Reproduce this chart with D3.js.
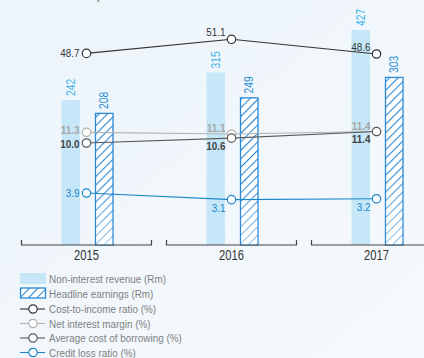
<!DOCTYPE html>
<html>
<head>
<meta charset="utf-8">
<script src="https://cdn.jsdelivr.net/npm/d3@7"></script>
<style>
  body { margin: 0; }
  svg { display: block; font-family: "Liberation Sans", Arial, sans-serif; }
</style>
</head>
<body>
<svg id="chart" width="424" height="358"></svg>
<script>
// data
const years = ["2015", "2016", "2017"];
const nonInterestRevenue = [242, 315, 427];
const headlineEarnings = [208, 249, 303];
const costToIncome = [48.7, 51.1, 48.6];
const netInterestMargin = [11.3, 11.1, 11.4];
const avgCostOfBorrowing = [10.0, 10.6, 11.4];
const creditLossRatio = [3.9, 3.1, 3.2];
const legendLabels = ["Non-interest revenue (Rm)", "Headline earnings (Rm)", "Cost-to-income ratio (%)",
  "Net interest margin (%)", "Average cost of borrowing (%)", "Credit loss ratio (%)"];

const svg = d3.select("#chart");
const W = 424, H = 358;
const baseY = 245;
const squeeze = 0.86; // the original face is narrow, so squash Liberation Sans a bit

const defs = svg.append("defs");
const bg = defs.append("linearGradient").attr("id", "bg").attr("x1", 0).attr("y1", 0).attr("x2", 1).attr("y2", 1);
bg.append("stop").attr("offset", 0).attr("stop-color", "#ecf5fb");
bg.append("stop").attr("offset", 1).attr("stop-color", "#f6f9fc");

const hatch = defs.append("pattern").attr("id", "hatch").attr("patternUnits", "userSpaceOnUse")
  .attr("width", 6).attr("height", 6).attr("patternTransform", "rotate(45)");
hatch.append("rect").attr("width", 6).attr("height", 6).attr("fill", "#ffffff");
hatch.append("line").attr("x1", 0).attr("y1", 0).attr("x2", 0).attr("y2", 6)
  .attr("stroke", "#2a88d4").attr("stroke-width", 2.2);

// fade the lower part of the hatched bars
const fade = defs.append("linearGradient").attr("id", "fade").attr("x1", 0).attr("y1", 0).attr("x2", 0).attr("y2", 1);
fade.append("stop").attr("offset", 0.55).attr("stop-color", "#fff").attr("stop-opacity", 0);
fade.append("stop").attr("offset", 1).attr("stop-color", "#fff").attr("stop-opacity", 0.55);

svg.append("rect").attr("width", W).attr("height", H).attr("fill", "url(#bg)");

// cut-off title at the top
svg.append("text").attr("transform", `translate(18,-2) scale(${squeeze},1)`).attr("font-size", 21).attr("fill", "#8a8a8a")
  .text("Business performance");

// scales
const x = d3.scaleBand().domain(years).range([14, 449]);
const xBar = d3.scaleBand().domain(["nir", "he"]).range([-25, 27]).paddingInner(0.448);
const yBar = d3.scaleLinear().domain([-141, 427]).range([baseY, 30]);
const yCost = d3.scaleLinear().domain([48.6, 51.1]).range([54, 39.3]);
const yLow = d3.scaleLinear().domain([0, 10]).range([225, 143]);
const cx = y => x(y) + x.bandwidth() / 2;

// bars
const g = svg.append("g");
g.selectAll(".nir").data(years).join("rect")
  .attr("x", (d, i) => cx(d) + xBar("nir"))
  .attr("y", (d, i) => yBar(nonInterestRevenue[i]))
  .attr("width", xBar.bandwidth())
  .attr("height", (d, i) => baseY - yBar(nonInterestRevenue[i]))
  .attr("fill", "#c5e7f7");

g.selectAll(".he").data(years).join("rect")
  .attr("x", (d, i) => cx(d) + xBar("he") + 0.5)
  .attr("y", (d, i) => yBar(headlineEarnings[i]) + 0.5)
  .attr("width", xBar.bandwidth() - 1)
  .attr("height", (d, i) => baseY - yBar(headlineEarnings[i]) - 0.5)
  .attr("fill", "url(#hatch)").attr("stroke", "#2a88d4").attr("stroke-width", 1.3);
g.selectAll(".hefade").data(years).join("rect")
  .attr("x", (d, i) => cx(d) + xBar("he") + 1.2)
  .attr("y", (d, i) => yBar(headlineEarnings[i]) + 1.2)
  .attr("width", xBar.bandwidth() - 2.4)
  .attr("height", (d, i) => baseY - yBar(headlineEarnings[i]) - 1.2)
  .attr("fill", "url(#fade)");

// bar value labels (rotated)
function barLabel(values, key, color) {
  g.selectAll(".lbl-" + key).data(years).join("text")
    .attr("transform", (d, i) => `translate(${cx(d) + xBar(key) + xBar.bandwidth() / 2 + 4},${yBar(values[i]) - 4}) rotate(-90) scale(${squeeze},1)`)
    .attr("font-size", 12).attr("fill", color)
    .text((d, i) => values[i]);
}
barLabel(nonInterestRevenue, "nir", "#3db5ec");
barLabel(headlineEarnings, "he", "#2f8fd6");

// axis brackets
const axis = svg.append("g");
axis.selectAll("path").data(years).join("path")
  .attr("d", d => `M${x(d) + 7.5},${baseY - 5}V${baseY}H${x(d) + 137.5}V${baseY - 5}`)
  .attr("fill", "none").attr("stroke", "#444").attr("stroke-width", 1.2);
axis.selectAll("text").data(years).join("text")
  .attr("transform", d => `translate(${cx(d)},${baseY + 15}) scale(0.8,1)`).attr("text-anchor", "middle")
  .attr("font-size", 14).attr("fill", "#333").text(d => d);

// line series
const series = [
  {values: costToIncome, scale: yCost, color: "#333333", label: "#333333", weight: 400, dy0: 4, dy: -3},
  {values: netInterestMargin, scale: yLow, color: "#b3b3b3", label: "#a6a6a6", weight: 700, dy0: 2, dy: -2},
  {values: avgCostOfBorrowing, scale: yLow, color: "#5a5a5a", label: "#444444", weight: 700, dy0: 5, dy: 11.5},
  {values: creditLossRatio, scale: yLow, color: "#1c86cc", label: "#1c86cc", weight: 400, dy0: 4, dy: 12}
];

series.forEach(s => {
  const pts = years.map((d, i) => [cx(d), s.scale(s.values[i])]);
  svg.append("path").attr("d", d3.line()(pts)).attr("fill", "none")
    .attr("stroke", s.color).attr("stroke-width", 1.1);
});
series.forEach(s => {
  const lg = svg.append("g");
  lg.selectAll("circle").data(years).join("circle")
    .attr("cx", d => cx(d)).attr("cy", (d, i) => s.scale(s.values[i])).attr("r", 4.2)
    .attr("fill", "#fff").attr("stroke", s.color).attr("stroke-width", 1.2);
  lg.selectAll("text").data(years).join("text")
    .attr("transform", (d, i) => `translate(${i === 0 ? cx(d) - 7 : cx(d) - 6},${s.scale(s.values[i]) + (i === 0 ? s.dy0 : s.dy)}) scale(${squeeze},1)`)
    .attr("text-anchor", "end").attr("font-size", 11.5)
    .attr("font-weight", s.weight).attr("fill", s.label)
    .text((d, i) => s.values[i].toFixed(1));
});

// legend
const leg = svg.append("g").attr("transform", "translate(20,0)");
const rowY = [279, 293.5, 309, 323.5, 338, 352.5];
leg.append("rect").attr("x", 0).attr("y", rowY[0] - 6).attr("width", 26).attr("height", 11).attr("fill", "#c5e7f7");
leg.append("rect").attr("x", 0.5).attr("y", rowY[1] - 5.5).attr("width", 25).attr("height", 10)
  .attr("fill", "url(#hatch)").attr("stroke", "#2a88d4").attr("stroke-width", 1.3);
series.forEach((s, i) => {
  const yy = rowY[i + 2];
  leg.append("line").attr("x1", 0).attr("x2", 25).attr("y1", yy).attr("y2", yy)
    .attr("stroke", s.color).attr("stroke-width", 1.1);
  leg.append("circle").attr("cx", 13).attr("cy", yy).attr("r", 4.2)
    .attr("fill", "#fff").attr("stroke", s.color).attr("stroke-width", 1.2);
});
leg.selectAll("text").data(legendLabels).join("text")
  .attr("transform", (d, i) => `translate(29,${rowY[i] + 4}) scale(${squeeze},1)`)
  .attr("font-size", 11.5).attr("fill", "#808080").text(d => d);
</script>
</body>
</html>
